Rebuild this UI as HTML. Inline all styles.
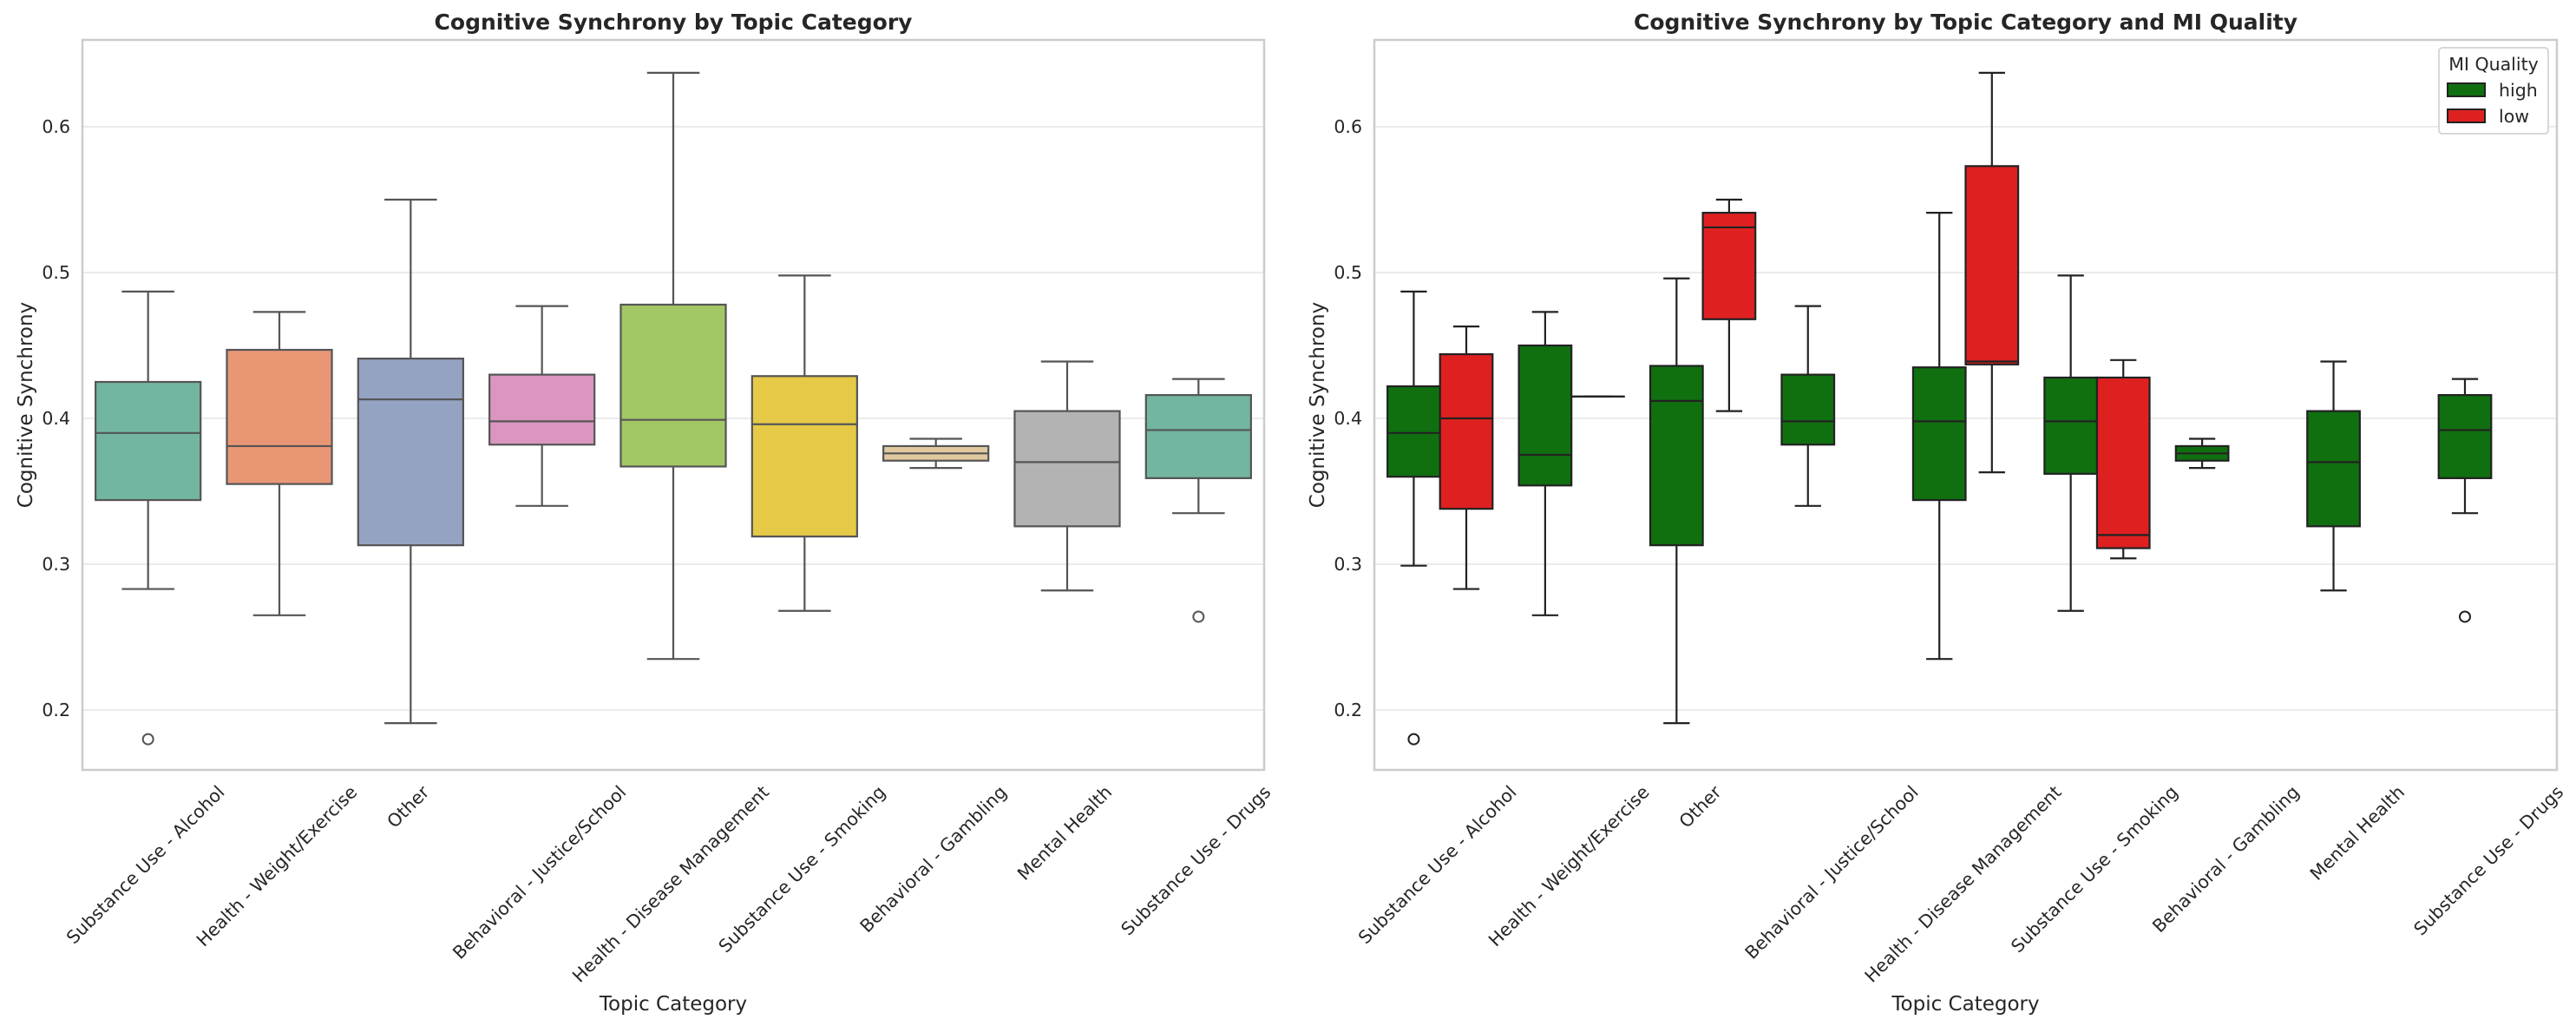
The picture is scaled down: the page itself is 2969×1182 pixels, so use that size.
<!DOCTYPE html>
<html><head><meta charset="utf-8">
<style>
html,body{margin:0;padding:0;background:#fff;}
svg{display:block;font-family:"DejaVu Sans","Liberation Sans",sans-serif;}
</style></head>
<body>
<svg id="chart" width="2969" height="1182" viewBox="0 0 2969 1182" xmlns="http://www.w3.org/2000/svg"></svg>
<script>
const categories = ["Substance Use - Alcohol","Health - Weight/Exercise","Other","Behavioral - Justice/School","Health - Disease Management","Substance Use - Smoking","Behavioral - Gambling","Mental Health","Substance Use - Drugs"];
// [whiskerLow, q1, median, q3, whiskerHigh]
const overallStats = [
 [0.283,0.344,0.390,0.425,0.487],
 [0.265,0.355,0.381,0.447,0.473],
 [0.191,0.313,0.413,0.441,0.550],
 [0.340,0.382,0.398,0.430,0.477],
 [0.235,0.367,0.399,0.478,0.637],
 [0.268,0.319,0.396,0.429,0.498],
 [0.366,0.371,0.376,0.381,0.386],
 [0.282,0.326,0.370,0.405,0.439],
 [0.335,0.359,0.392,0.416,0.427]
];
const overallOutliers = [[0.180],[],[],[],[],[],[],[],[0.264]];
const highStats = [
 [0.299,0.360,0.390,0.422,0.487],
 [0.265,0.354,0.375,0.450,0.473],
 [0.191,0.313,0.412,0.436,0.496],
 [0.340,0.382,0.398,0.430,0.477],
 [0.235,0.344,0.398,0.435,0.541],
 [0.268,0.362,0.398,0.428,0.498],
 [0.366,0.371,0.376,0.381,0.386],
 [0.282,0.326,0.370,0.405,0.439],
 [0.335,0.359,0.392,0.416,0.427]
];
const highOutliers = [[0.180],[],[],[],[],[],[],[],[0.264]];
const lowStats = [
 [0.283,0.338,0.400,0.444,0.463],
 [0.415,0.415,0.415,0.415,0.415],
 [0.405,0.468,0.531,0.541,0.550],
 null,
 [0.363,0.437,0.439,0.573,0.637],
 [0.304,0.311,0.320,0.428,0.440],
 null,null,null
];
const yTicks = [0.2,0.3,0.4,0.5,0.6];
const yTickLabels = ["0.2","0.3","0.4","0.5","0.6"];
const palette = ["#72b6a1","#e99675","#95a3c3","#db96c0","#a2c865","#e5c947","#e1c99f","#b3b3b3","#72b6a1"];

const NS="http://www.w3.org/2000/svg";
const svg=document.getElementById('chart');
function el(tag,attrs,parent){const e=document.createElementNS(NS,tag);for(const k in attrs)e.setAttribute(k,attrs[k]);(parent||svg).appendChild(e);return e;}

const TOP=46,BOT=887,Y0=0.6,YPX=146,PER=1680;
function yScale(v){return YPX+(Y0-v)*PER;}

function drawPanel(px0,px1,title,name){
  const g=el('g',{});
  
  
  const step=(px1-px0)/categories.length;
  const xc=i=>px0+step*(i+0.5);
  yTicks.forEach((t,k)=>{
    const ln=el('line',{x1:px0,x2:px1,y1:yScale(t),y2:yScale(t),stroke:'#ebebeb','stroke-width':2},g);
    
    
    const tx=el('text',{x:px0-14,y:yScale(t)+7,'text-anchor':'end','font-size':20.5,fill:'#262626'},g);
    tx.textContent=yTickLabels[k];
    
    
  });
  const fr=el('rect',{x:px0,y:TOP,width:px1-px0,height:BOT-TOP,fill:'none',stroke:'#cccccc','stroke-width':2.5},g);
  
  
  const tt=el('text',{x:(px0+px1)/2,y:34,'text-anchor':'middle','font-size':25,'font-weight':'bold',fill:'#262626'},g);
  tt.textContent=title;
  
  
  const yl=el('text',{x:0,y:0,'text-anchor':'middle','font-size':23,fill:'#262626',transform:`translate(${px0-58},${(TOP+BOT)/2}) rotate(-90)`},g);
  yl.textContent='Cognitive Synchrony';
  
  
  const xl=el('text',{x:(px0+px1)/2,y:1164,'text-anchor':'middle','font-size':23,fill:'#262626'},g);
  xl.textContent='Topic Category';
  
  
  categories.forEach((c,i)=>{
    const t=el('text',{x:0,y:0,'text-anchor':'middle','font-size':20.5,fill:'#262626'},g);
    t.textContent=c;
    
    
    const w=t.getComputedTextLength();
    const h=20.5*0.95;
    const bh=(w+h)*Math.SQRT1_2;
    t.setAttribute('transform',`translate(${xc(i)-3},${902+bh/2}) rotate(-45) translate(0,${h*0.36})`);
  });
  return {g,step,xc};
}

function drawBox(g,cx,w,s,fill,edge,outs,name){
  const bg=el('g',{},g);
  
  
  const sw=2.2;
  const L=(x1,y1,x2,y2)=>el('line',{x1,y1,x2,y2,stroke:edge,'stroke-width':sw},bg);
  L(cx,yScale(s[0]),cx,yScale(s[1]));
  L(cx,yScale(s[3]),cx,yScale(s[4]));
  L(cx-w/4,yScale(s[0]),cx+w/4,yScale(s[0]));
  L(cx-w/4,yScale(s[4]),cx+w/4,yScale(s[4]));
  el('rect',{x:cx-w/2,y:yScale(s[3]),width:w,height:Math.max(0.01,yScale(s[1])-yScale(s[3])),fill:fill,stroke:edge,'stroke-width':sw},bg);
  L(cx-w/2,yScale(s[2]),cx+w/2,yScale(s[2]));
  (outs||[]).forEach(o=>{
    const c=el('circle',{cx:cx,cy:yScale(o),r:6,fill:'none',stroke:edge,'stroke-width':2},bg);
    
    
  });
}

const p1=drawPanel(95,1457,'Cognitive Synchrony by Topic Category','left-panel');
overallStats.forEach((s,i)=>drawBox(p1.g,p1.xc(i),p1.step*0.8,s,palette[i],'#555555',overallOutliers[i],'box-'+i));

const p2=drawPanel(1584,2947,'Cognitive Synchrony by Topic Category and MI Quality','right-panel');
const hw=p2.step*0.4;
highStats.forEach((s,i)=>drawBox(p2.g,p2.xc(i)-hw/2,hw,s,'#107010','#222222',highOutliers[i],'box-high-'+i));
lowStats.forEach((s,i)=>{ if(s) drawBox(p2.g,p2.xc(i)+hw/2,hw,s,'#df2020','#222222',[],'box-low-'+i); });

const lg=el('g',{});


el('rect',{x:2811,y:55,width:126,height:99,rx:4,fill:'#fff',stroke:'#cccccc','stroke-width':1.5},lg);
const lt=el('text',{x:2874,y:81,'text-anchor':'middle','font-size':20.5,fill:'#262626'},lg);
lt.textContent='MI Quality';


[['high','#107010',104],['low','#df2020',134]].forEach(([lab,col,y])=>{
  const e=el('g',{},lg);
  
  
  el('rect',{x:2821,y:y-8,width:43,height:15,fill:col,stroke:'#222','stroke-width':2},e);
  const t=el('text',{x:2880,y:y+7,'font-size':20.5,fill:'#262626'},e);
  t.textContent=lab;
});
</script>
</body></html>
